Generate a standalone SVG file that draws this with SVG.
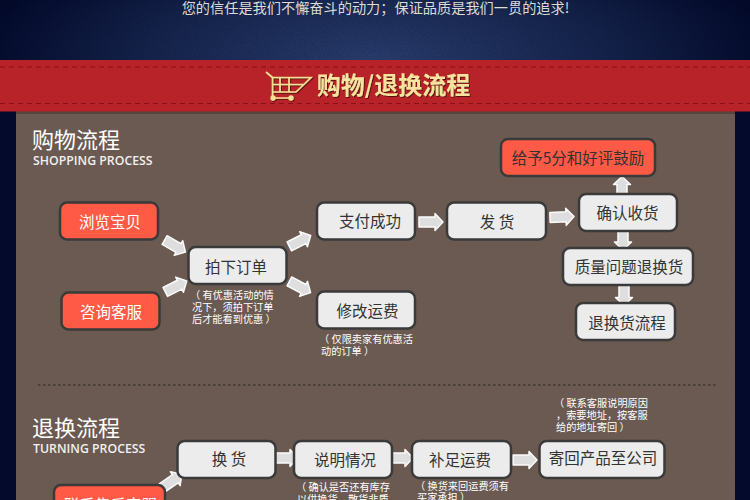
<svg xmlns="http://www.w3.org/2000/svg" width="750" height="500" viewBox="0 0 750 500">
<defs>
<radialGradient id="navy" gradientUnits="userSpaceOnUse" cx="375" cy="60" r="400" gradientTransform="translate(0 40) scale(1 .35)">
<stop offset="0" stop-color="#2a3e70"/><stop offset=".55" stop-color="#16254f"/><stop offset="1" stop-color="#030a2c"/>
</radialGradient>
<filter id="denim" x="0" y="0" width="100%" height="100%">
<feTurbulence type="fractalNoise" baseFrequency=".9" numOctaves="2" seed="4"/>
<feColorMatrix values="0 0 0 0 0  0 0 0 0 0  0 0 0 0 0  .9 0 0 0 -.28"/>
</filter>
<filter id="lift" x="-10%" y="-30%" width="120%" height="160%"><feDropShadow dx="1" dy="1" stdDeviation=".4" flood-color="#5a1010"/></filter>
<path id="arrow" d="M-12-5H4V-8.500L12 0 4 8.500V5H-12Z"/>
</defs>
<style>
text{font-family:"Noto Sans CJK SC","Liberation Sans",sans-serif}
.box{stroke:#3a3a3a;stroke-width:2.500;fill:#ececec}
.hot{fill:#ff5a45}
.lab{font-size:15.500px;fill:#333;text-anchor:middle}
.wht{fill:#fff}
.note{font-size:10.200px;fill:#fff}
.conn use{fill:#dedede;stroke:#fbfbfb;stroke-width:1.500;stroke-linejoin:round}
.stitch{fill:none;stroke:#8a0f18;stroke-width:1;stroke-dasharray:5 4}
.h1{font-size:22px;fill:#fff}
.h2{font-size:12.300px;fill:#f2f0ee;font-family:"Open Sans","Liberation Sans",sans-serif;font-weight:600}
</style>

<!-- backdrop -->
<rect width="750" height="500" fill="#040b2e"/>
<rect width="750" height="112" fill="url(#navy)"/>
<rect width="750" height="500" filter="url(#denim)" opacity=".35"/>
<text x="375.500" y="13" text-anchor="middle" font-size="14.200" fill="#dcdcd4">您的信任是我们不懈奋斗的动力；保证品质是我们一贯的追求!</text>

<!-- content panel -->
<rect x="16" y="108" width="719" height="392" fill="#6a5a52"/>
<rect x="16" y="111" width="719" height="3" fill="#54463f"/>

<!-- red banner -->
<rect y="60" width="750" height="51.500" fill="#b72328"/>
<path class="stitch" d="M0 67H750M0 103.500H750"/>
<g id="cart" fill="none" stroke="#f6de95" stroke-width="1.700" filter="url(#lift)">
<path d="M266 72L272.500 77.500V96.500Q272.500 98 274 98H292"/>
<path d="M272.500 77.500H311L296 92H272.500M280 78V92M289 78V92M272.500 84.500H304"/>
<circle cx="273" cy="98" r="1.800" fill="#f6de95"/><circle cx="291" cy="98" r="1.800" fill="#f6de95"/>
</g>
<text x="393.500" y="94" text-anchor="middle" font-size="24" font-weight="700" fill="#f8e29e" filter="url(#lift)">购物/退换流程</text>

<!-- section headings -->
<text class="h1" x="32" y="148">购物流程</text>
<text class="h2" x="33" y="165">SHOPPING PROCESS</text>
<text class="h1" x="32" y="436">退换流程</text>
<text class="h2" x="33" y="453">TURNING PROCESS</text>
<path d="M38 385H716" stroke="#2e2723" stroke-width="1" stroke-dasharray="2.500 2.500"/>

<!-- connectors -->
<g id="connectors" class="conn">
<use href="#arrow" transform="translate(175 246) rotate(30)"/>
<use href="#arrow" transform="translate(176 286.500) rotate(-27)"/>
<use href="#arrow" transform="translate(300 241) rotate(-27)"/>
<use href="#arrow" transform="translate(300 287) rotate(28)"/>
<use href="#arrow" transform="translate(431 222)"/>
<use href="#arrow" transform="translate(562 217) rotate(-2)"/>
<use href="#arrow" transform="translate(622 188.500) rotate(-90)"/>
<use href="#arrow" transform="translate(623 238) rotate(90)"/>
<use href="#arrow" transform="translate(624 293.500) rotate(90)"/>
<use href="#arrow" transform="translate(172 481) rotate(-35)"/>
<use href="#arrow" transform="translate(286 458)"/>
<use href="#arrow" transform="translate(401 458)"/>
<use href="#arrow" transform="translate(525 460)"/>
</g>

<!-- shopping flow -->
<g id="browse"><rect class="box hot" x="60" y="202.500" width="98" height="37" rx="7"/><text class="lab wht" x="110" y="228">浏览宝贝</text></g>
<g id="consult"><rect class="box hot" x="61.500" y="292.500" width="98" height="37" rx="7"/><text class="lab wht" x="111" y="318">咨询客服</text></g>
<g id="order"><rect class="box" x="188.500" y="247" width="98" height="37" rx="7"/><text class="lab" x="236" y="272.500">拍下订单</text>
<text class="note"><tspan x="190" y="299">（ 有优惠活动的情</tspan><tspan x="192" y="311">况下，须拍下订单</tspan><tspan x="192" y="323">后才能看到优惠 ）</tspan></text></g>
<g id="paid"><rect class="box" x="317" y="202.500" width="98" height="37" rx="7"/><text class="lab" x="370" y="227">支付成功</text></g>
<g id="fee"><rect class="box" x="317" y="291.500" width="98" height="37" rx="7"/><text class="lab" x="367.500" y="317">修改运费</text>
<text class="note"><tspan x="319" y="343">（ 仅限卖家有优惠活</tspan><tspan x="321" y="355">动的订单 ）</tspan></text></g>
<g id="ship"><rect class="box" x="447" y="202.500" width="99" height="37" rx="7"/><text class="lab" x="497" y="227.500">发 货</text></g>
<g id="reward"><rect class="box hot" x="501" y="139" width="154" height="37" rx="7"/><text class="lab" x="578" y="164">给予5分和好评鼓励</text></g>
<g id="confirm"><rect class="box" x="579" y="194" width="98" height="37" rx="7"/><text class="lab" x="627.500" y="219">确认收货</text></g>
<g id="quality"><rect class="box" x="563" y="248" width="130" height="37" rx="7"/><text class="lab" x="629" y="272.500">质量问题退换货</text></g>
<g id="returns"><rect class="box" x="576" y="303" width="99" height="37" rx="7"/><text class="lab" x="627" y="328.500">退换货流程</text></g>

<!-- returns flow -->
<g id="contact"><rect class="box hot" x="54" y="485" width="111" height="37" rx="7"/><text class="lab wht" x="110.500" y="511">联系售后客服</text></g>
<g id="swap"><rect class="box" x="177.500" y="441" width="98" height="37" rx="7"/><text class="lab" x="229" y="465">换 货</text></g>
<g id="explain"><rect class="box" x="294" y="441" width="98" height="37" rx="7"/><text class="lab" x="345" y="465.500">说明情况</text>
<text class="note"><tspan x="296" y="491">（ 确认是否还有库存</tspan><tspan x="297" y="503">以供换货，散货非质</tspan></text></g>
<g id="topup"><rect class="box" x="412" y="441" width="99" height="37" rx="7"/><text class="lab" x="460" y="465.500">补足运费</text>
<text class="note"><tspan x="415" y="490">（ 换货来回运费须有</tspan><tspan x="417" y="501">买家承担 ）</tspan></text></g>
<g id="sendback"><rect class="box" x="539.500" y="441" width="125" height="37" rx="7"/><text class="lab" x="603" y="464">寄回产品至公司</text>
<text class="note"><tspan x="554" y="406.500">（ 联系客服说明原因</tspan><tspan x="556" y="418.500">，索要地址，按客服</tspan><tspan x="556" y="430.500">给的地址寄回 ）</tspan></text></g>
</svg>
